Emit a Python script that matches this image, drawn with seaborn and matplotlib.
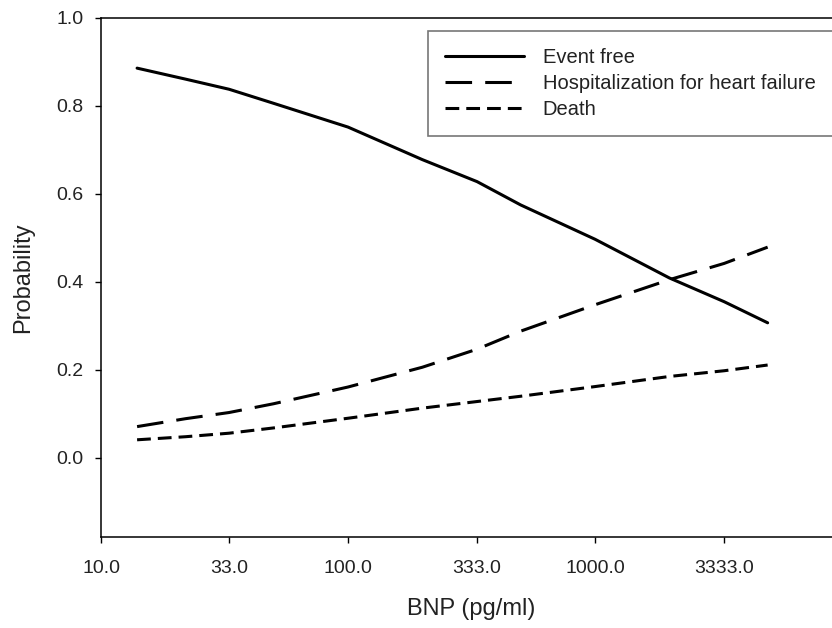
import matplotlib
matplotlib.use("Agg")
import pandas as pd
import matplotlib.pyplot as plt
import seaborn as sns

sns.set_style("ticks")
plt.rcParams['font.family'] = ['Liberation Sans', 'DejaVu Sans']
plt.rcParams['text.color'] = '#222222'
plt.rcParams['axes.labelcolor'] = '#222222'
plt.rcParams['xtick.color'] = 'black'
plt.rcParams['ytick.color'] = 'black'
plt.rcParams['xtick.labelcolor'] = '#222222'
plt.rcParams['ytick.labelcolor'] = '#222222'

# values
bnp = [14, 22, 33, 50, 100, 200, 333, 500, 1000, 2000, 3333, 5000]
event_free = [0.886, 0.861, 0.838, 0.806, 0.752, 0.678, 0.628, 0.575, 0.497, 0.409, 0.355, 0.307]
hospitalization = [0.071, 0.089, 0.103, 0.123, 0.161, 0.206, 0.247, 0.288, 0.348, 0.405, 0.442, 0.479]
death = [0.041, 0.048, 0.056, 0.068, 0.090, 0.113, 0.128, 0.140, 0.162, 0.185, 0.198, 0.211]

series = ['Event free', 'Hospitalization for heart failure', 'Death']
xticks = [10, 33, 100, 333, 1000, 3333]
xtick_labels = ['10.0', '33.0', '100.0', '333.0', '1000.0', '3333.0']
yticks = [0.0, 0.2, 0.4, 0.6, 0.8, 1.0]

dfs = []
for name, vals in zip(series, [event_free, hospitalization, death]):
    dfs.append(pd.DataFrame({'BNP': bnp, 'Probability': vals, 'series': name}))
data = pd.concat(dfs, ignore_index=True)

fig = plt.figure(figsize=(8.32, 6.28), dpi=100)
# axes run a little past the right edge, as in the cropped original
ax = fig.add_axes([101 / 832, 1 - 537 / 628, 741 / 832, 519 / 628])

sns.lineplot(data=data, x='BNP', y='Probability', style='series',
             style_order=series, color='black', linewidth=2.2,
             dashes={'Event free': '',
                     'Hospitalization for heart failure': (8.7, 4.3),
                     'Death': (4.5, 2.3)},
             sort=False, ax=ax, legend=False)

ax.set_xscale('log')
ax.set_xlim(10, 10000)
ax.set_ylim(-0.18, 1.0)
ax.set_xticks(xticks)
ax.set_xticklabels(xtick_labels)
ax.minorticks_off()
ax.set_yticks(yticks)
ax.set_yticklabels([f"{v:.1f}" for v in yticks])

ax.tick_params(axis='both', labelsize=14, length=4.5, width=1, direction='out')
ax.tick_params(axis='y', pad=8)
ax.tick_params(axis='x', pad=12)
ax.set_xlabel('BNP (pg/ml)', fontsize=17, labelpad=15)
ax.set_ylabel('Probability', fontsize=17, labelpad=16)

for side in ['left', 'bottom', 'top']:
    ax.spines[side].set_linewidth(1.1)
    ax.spines[side].set_color('black')
ax.spines['right'].set_visible(False)

leg = ax.legend(ax.get_lines()[:3], series, loc='upper left',
                bbox_to_anchor=(428 / 832, 1 - 31 / 628),
                bbox_transform=fig.transFigure, borderaxespad=0,
                fontsize=14.5, frameon=True, fancybox=False, framealpha=1,
                edgecolor='#777777', borderpad=0.85, labelspacing=0.35,
                handlelength=3.9, handletextpad=0.94)
leg.get_frame().set_linewidth(1.2)

fig.savefig('out.png', dpi=100)
plt.close(fig)
